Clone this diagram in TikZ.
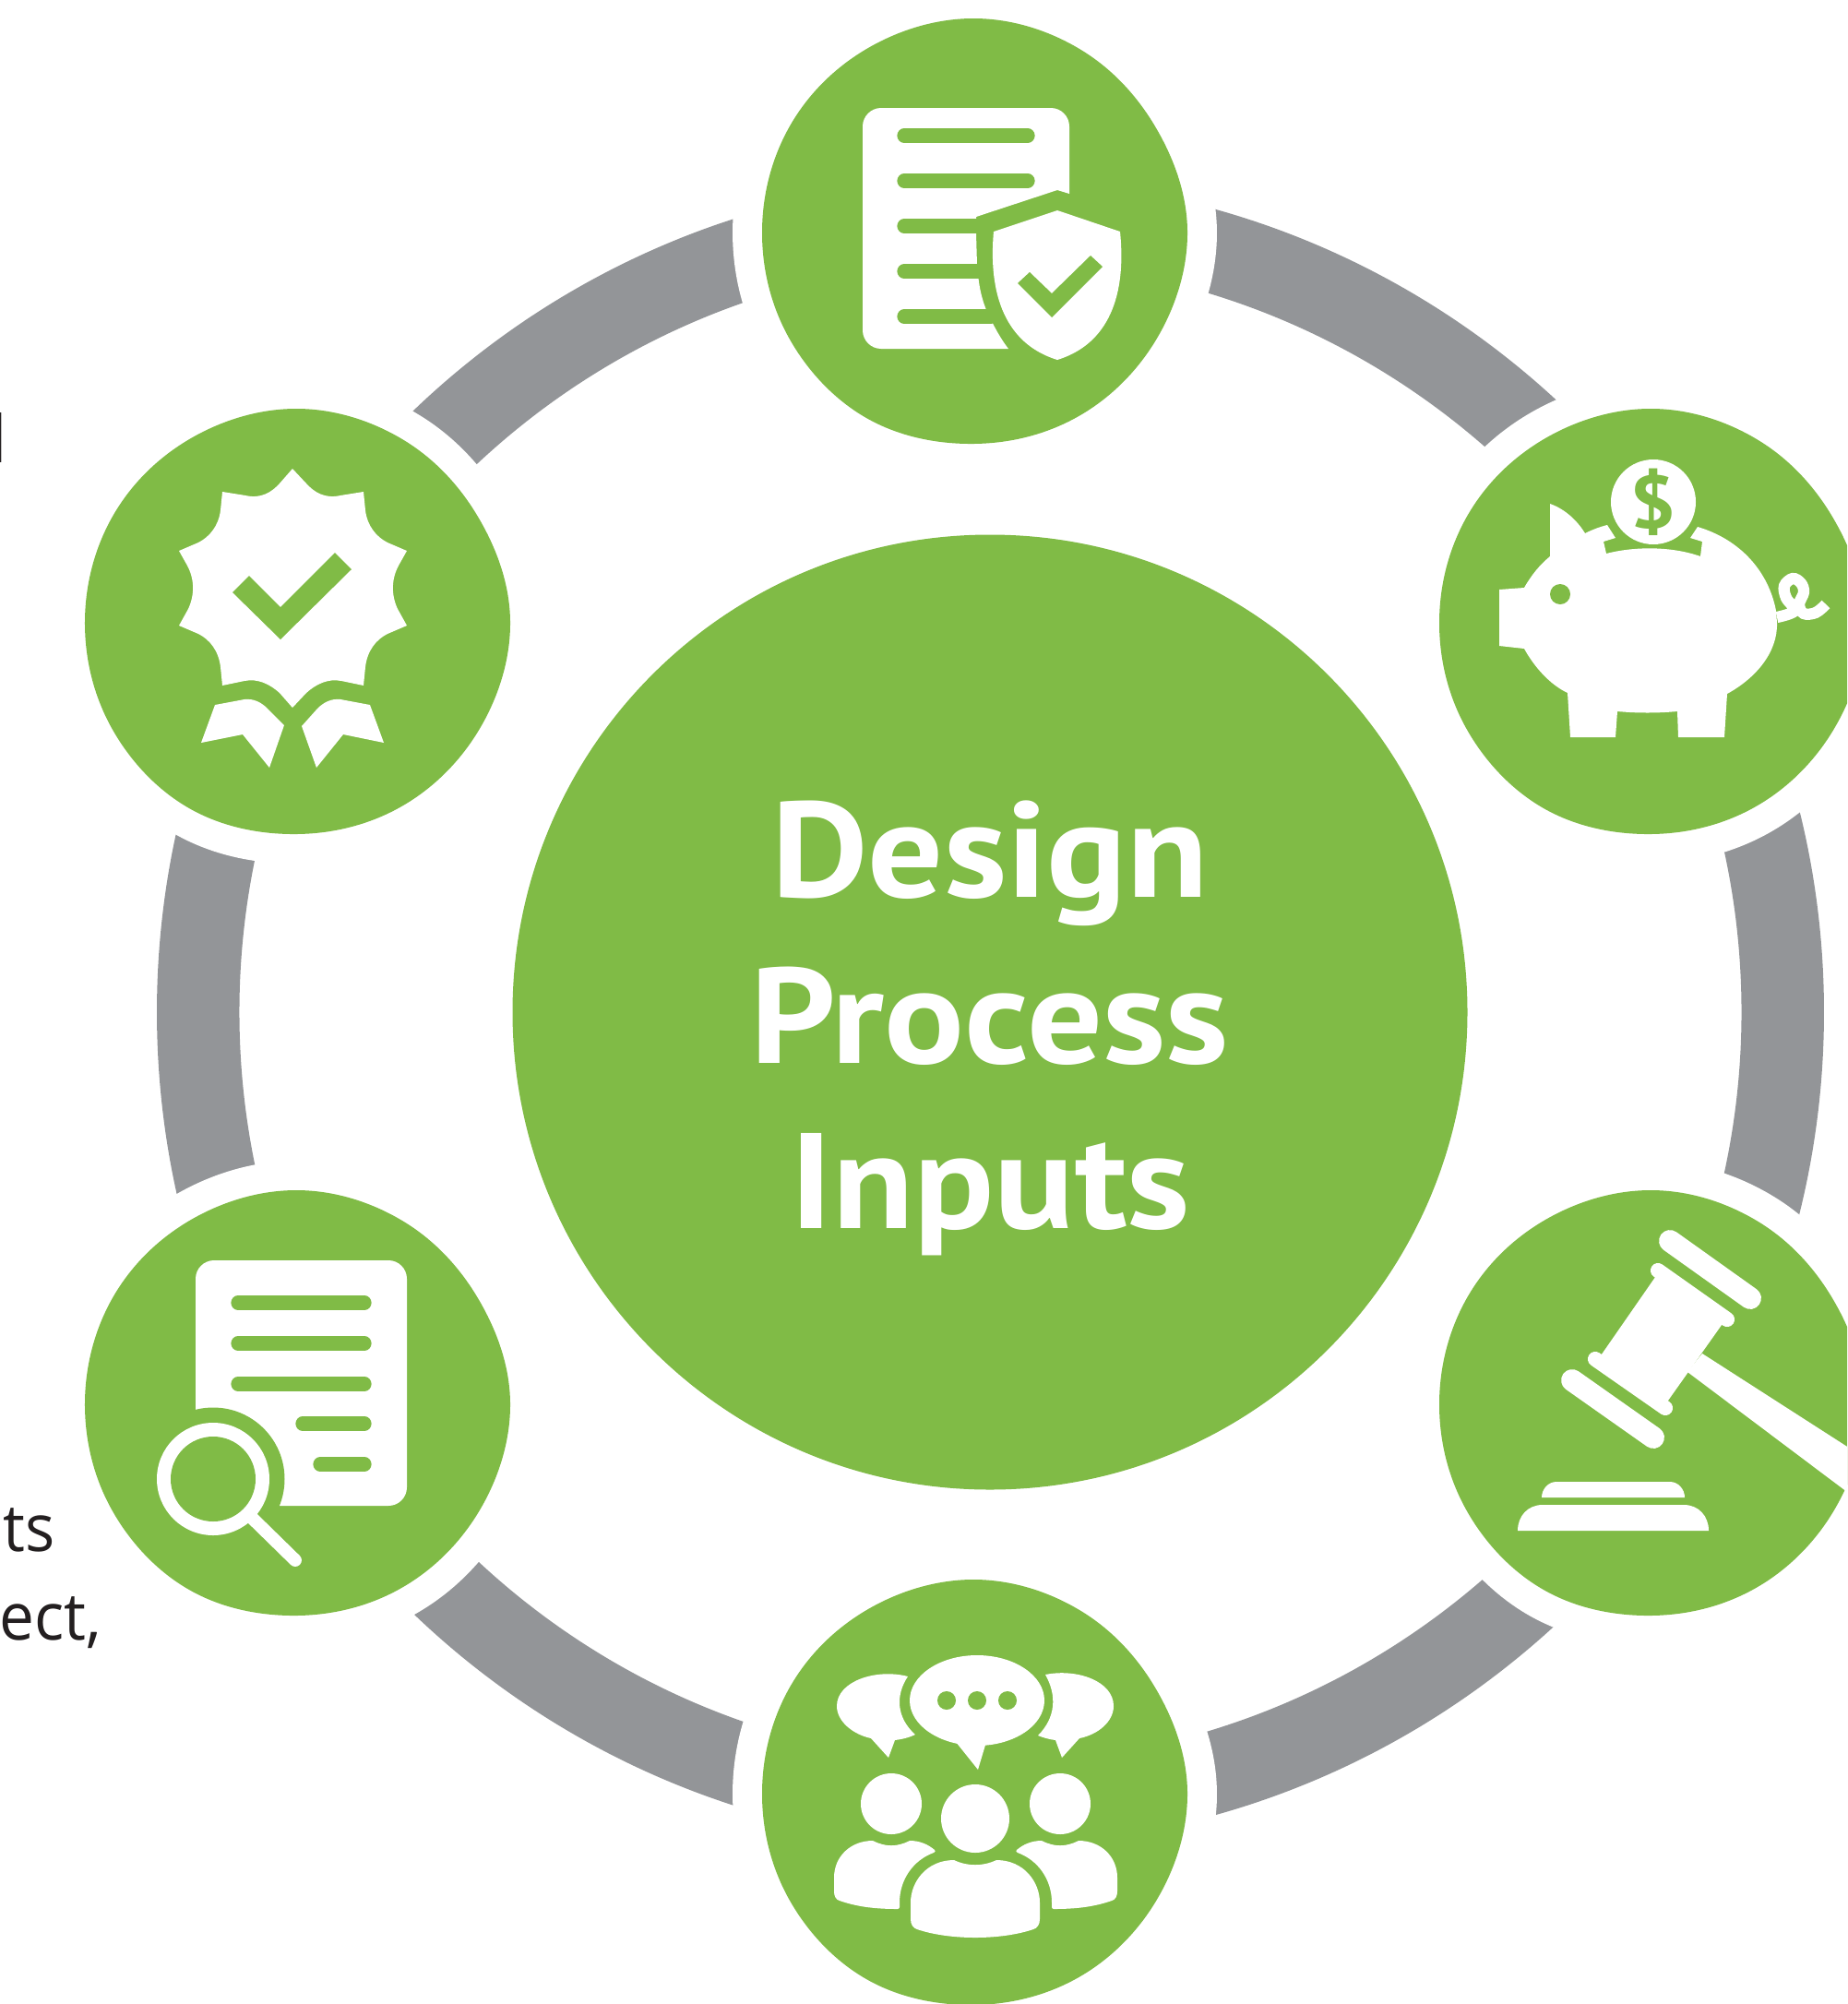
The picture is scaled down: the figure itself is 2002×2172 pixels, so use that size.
\documentclass[tikz,border=0pt]{standalone}
\usepackage{fontspec}
\newfontfamily\diagramfont[FakeStretch=0.95]{Open Sans}
\newfontfamily\hubfont[FakeStretch=1.10]{PT Sans}
\definecolor{inputgreen}{RGB}{128,187,70}
\definecolor{ringgray}{RGB}{147,149,152}
\definecolor{fragblack}{RGB}{35,31,32}
\tikzset{every picture/.style={line width=0.75pt}}
\tikzset{
  blobshape/.style={fill=inputgreen,preaction={draw=white,line width=23pt,line join=round}},
  blobpic/.pic={\path [blobshape] plot [smooth cycle,tension=0.63] coordinates {(231,0) (196,113) (114,197) (0,230) (-115,198) (-199,115) (-230,0) (-201,-116) (-117,-203) (0,-231) (115,-200) (199,-115)};},
  hubcircle/.style={circle,fill=inputgreen,minimum size=372.6pt,inner sep=0pt},
  hubtext/.style={align=center,text=white,inner sep=0pt,font=\hubfont\bfseries\fontsize{53}{64.6}\selectfont},
  fragtext/.style={anchor=base east,inner sep=0pt,text=fragblack,font=\diagramfont\fontsize{25.6}{30}\selectfont},
  iconwhite/.style={fill=white,draw=none},
  icongreen/.style={fill=inputgreen,draw=none},
  docline/.style={draw=inputgreen,line width=5.5pt,line cap=round},
  gavelbar/.style={draw=white,line width=8.6pt,line cap=round},
  gavelcap/.style={draw=white,line width=5.8pt,line cap=round}
}
\begin{document}
\begin{tikzpicture}[x=0.36pt,y=0.36pt,yscale=-1,xscale=1]
  \useasboundingbox (0,0) rectangle (2002,2172);
  \clip (0,0) rectangle (2002,2172);

  %Shape: Ring
  \draw [color=ringgray,line width=32.2pt] (1073.5,1097) circle (858.75);

  %Shape: Blobs
  \pic at (1056,250) {blobpic};
  \pic at (1790,673) {blobpic};
  \pic at (1790,1520) {blobpic};
  \pic at (1056,1942) {blobpic};
  \pic at (322,1520) {blobpic};
  \pic at (322,673) {blobpic};

  % Hub
  \node [hubcircle] (hubdisc) at (1073,1097) {};
  \node [hubtext] (hublabel) at (1073,1114.5) {Design\\Process\\Inputs};

  %Icon: document and shield
  \fill [iconwhite] (1159,210) -- (1159,137) .. controls (1159,126) and (1150,117) .. (1139,117) -- (955,117) .. controls (944,117) and (935,126) .. (935,137) -- (935,358) .. controls (935,369) and (944,378) .. (955,378) -- (1093,378) .. controls (1083,365) and (1076,351) .. (1069,336) .. controls (1064,323) and (1061,312) .. (1059,287) -- (1058,253) -- (1058,235) -- (1146,206) -- cycle;
  \draw [docline] (980,147) -- (1114,147);
  \draw [docline] (980,196) -- (1114,196);
  \draw [docline] (980,245) -- (1062,245);
  \draw [docline] (980,294) -- (1064,294);
  \draw [docline] (980,343) -- (1074,343);
  \fill [iconwhite] (1146,228) -- (1214,251) .. controls (1222,330) and (1195,375) .. (1146,390) .. controls (1097,375) and (1070,330) .. (1077,251) -- cycle;
  \fill [icongreen] (1103,307) -- (1116,295) -- (1140,318) -- (1182,277) -- (1195,289) -- (1140,344) -- cycle;

  %Icon: piggy bank
  \fill [iconwhite] (1625,639) -- (1652,637) .. controls (1660,623) and (1669,612) .. (1680,603) -- (1680,546) .. controls (1697,552) and (1710,565) .. (1718,578) .. controls (1726,574) and (1734,571) .. (1742,569) -- (1751,583) -- (1738,587) -- (1741,600) .. controls (1772,592) and (1812,592) .. (1843,603) -- (1845,587) -- (1832,583) -- (1840,571) .. controls (1887,585) and (1917,620) .. (1925,662) -- (1926,675) .. controls (1927,707) and (1903,735) .. (1872,752) -- (1869,799) -- (1819,799) -- (1818,771) .. controls (1797,773) and (1774,773) .. (1753,771) -- (1751,799) -- (1702,799) -- (1699,751) .. controls (1680,742) and (1663,723) .. (1652,703) -- (1625,700) -- cycle;
  \draw [white,line width=4.4pt] plot [smooth,tension=0.6] coordinates {(1926,669) (1945,662) (1936,648) (1934,635) (1943,627) (1952,632) (1955,642) (1950,655) (1955,665) (1968,664) (1979,655)};
  \fill [icongreen] (1691,644) circle (11);
  \fill [iconwhite] (1792,544) circle (46);
  \node [inner sep=0pt,text=inputgreen,font=\hubfont\bfseries\fontsize{29}{29}\selectfont] (coinsign) at (1792,544) {\$};

  %Icon: gavel
  \draw [gavelbar] (1810,1345) -- (1897,1407);
  \draw [gavelbar] (1704,1496) -- (1792,1558);
  \draw [gavelcap] (1797,1377) -- (1872,1430);
  \draw [gavelcap] (1729,1473) -- (1805,1526);
  \fill [iconwhite] (1799,1377) -- (1871,1429) -- (1803,1525) -- (1731,1475) -- cycle;
  \fill [iconwhite] (1845,1467) -- (2010,1573) -- (2010,1623) -- (1829,1487) -- cycle;
  \fill [iconwhite] (1671,1623) .. controls (1671,1614) and (1678,1606) .. (1687,1606) -- (1810,1606) .. controls (1819,1606) and (1826,1614) .. (1826,1623) -- cycle;
  \fill [iconwhite] (1645,1659) .. controls (1645,1643) and (1656,1631) .. (1672,1631) -- (1825,1631) .. controls (1841,1631) and (1852,1643) .. (1852,1659) -- cycle;

  %Icon: people talking
  \fill [iconwhite] (1059,1843) ellipse (73 and 49);
  \fill [iconwhite] (1036,1888) -- (1060,1918) -- (1069,1888) -- cycle;
  \foreach \dotx in {1026,1059,1092} {\fill [icongreen] (\dotx,1843) circle (10);}
  \fill [iconwhite] (984,1817) .. controls (950,1808) and (907,1822) .. (907,1849) .. controls (907,1866) and (925,1880) .. (944,1884) -- (963,1905) -- (970,1886) .. controls (978,1885) and (986,1883) .. (992,1880) .. controls (972,1862) and (970,1838) .. (984,1817) -- cycle;
  \fill [iconwhite] (1133,1815) .. controls (1167,1808) and (1207,1822) .. (1207,1849) .. controls (1207,1866) and (1190,1880) .. (1170,1884) -- (1151,1905) -- (1144,1886) .. controls (1136,1885) and (1130,1883) .. (1125,1881) .. controls (1144,1862) and (1146,1838) .. (1133,1815) -- cycle;
  \fill [iconwhite] (1057,1971) circle (37);
  \fill [iconwhite] (966,1955) circle (33);
  \fill [iconwhite] (1149,1955) circle (33);
  \fill [iconwhite] (1034,2016) .. controls (1049,2023) and (1065,2023) .. (1080,2016) .. controls (1110,2016) and (1127,2040) .. (1127,2062) -- (1127,2080) .. controls (1127,2086) and (1124,2090) .. (1120,2091) .. controls (1085,2103) and (1029,2103) .. (994,2091) .. controls (990,2090) and (987,2086) .. (987,2080) -- (987,2062) .. controls (987,2040) and (1004,2016) .. (1034,2016) -- cycle;
  \fill [iconwhite] (946,1995) .. controls (960,2002) and (972,2002) .. (986,1995) .. controls (997,1995) and (1006,1999) .. (1013,2005) .. controls (1014,2006) and (1014,2007) .. (1012,2008) .. controls (990,2016) and (975,2037) .. (975,2062) -- (975,2067) .. controls (975,2068) and (974,2069) .. (973,2069) .. controls (950,2069) and (930,2067) .. (910,2060) .. controls (906,2059) and (904,2055) .. (904,2050) -- (904,2035) .. controls (904,2012) and (922,1995) .. (946,1995) -- cycle;
  \fill [iconwhite] (1169,1995) .. controls (1155,2002) and (1143,2002) .. (1129,1995) .. controls (1118,1995) and (1109,1999) .. (1102,2005) .. controls (1101,2006) and (1101,2007) .. (1103,2008) .. controls (1125,2016) and (1140,2037) .. (1140,2062) -- (1140,2067) .. controls (1140,2068) and (1141,2069) .. (1142,2069) .. controls (1165,2069) and (1185,2067) .. (1205,2060) .. controls (1209,2059) and (1211,2055) .. (1211,2050) -- (1211,2035) .. controls (1211,2012) and (1193,1995) .. (1169,1995) -- cycle;

  %Icon: document and magnifier
  \fill [iconwhite,rounded corners=7.2pt] (212,1366) rectangle (441,1632);
  \draw [docline] (258,1412) -- (395,1412);
  \draw [docline] (258,1456) -- (395,1456);
  \draw [docline] (258,1500) -- (395,1500);
  \draw [docline] (328,1543) -- (395,1543);
  \draw [docline] (347,1587) -- (395,1587);
  \fill [icongreen] (231,1603) circle (77.5);
  \fill [iconwhite] (231,1603) circle (61);
  \fill [icongreen] (231,1603) circle (46);
  \draw [white,line width=5pt,line cap=round] (274,1646) -- (320,1691);

  %Icon: rosette
  \fill [iconwhite] (317,508) -- (332,524) .. controls (340,533) and (352,541) .. (369,537) -- (394,533) -- (396,553) .. controls (398,570) and (408,582) .. (420,588) -- (441,597) -- (432,613) .. controls (424,628) and (424,645) .. (431,660) -- (441,678) -- (420,687) .. controls (408,693) and (398,705) .. (396,723) -- (394,743) -- (370,738) .. controls (355,735) and (342,742) .. (332,751) -- (317,767) -- (303,751) .. controls (293,742) and (280,735) .. (265,738) -- (241,743) -- (239,723) .. controls (237,705) and (227,693) .. (215,687) -- (194,678) -- (204,660) .. controls (211,645) and (211,628) .. (203,613) -- (194,597) -- (215,588) .. controls (227,582) and (237,570) .. (239,553) -- (241,533) -- (266,537) .. controls (283,541) and (295,533) .. (303,524) -- cycle;
  \fill [icongreen] (252,642) -- (270,624) -- (304,658) -- (363,599) -- (381,617) -- (304,693) -- cycle;
  \fill [iconwhite] (233,764) -- (265,758) .. controls (275,757) and (283,761) .. (290,768) -- (308,786) -- (292,832) -- (263,796) -- (218,805) -- cycle;
  \fill [iconwhite] (401,764) -- (369,758) .. controls (359,757) and (351,761) .. (344,768) -- (327,787) -- (343,832) -- (372,796) -- (416,805) -- cycle;

  % Text Node
  \node [fragtext] (fragl) at (8.3,501) {l};
  % Text Node
  \node [fragtext] (fragts) at (61,1681) {ts};
  % Text Node
  \node [fragtext] (fragect) at (111,1777) {ect,};
\end{tikzpicture}
\end{document}
